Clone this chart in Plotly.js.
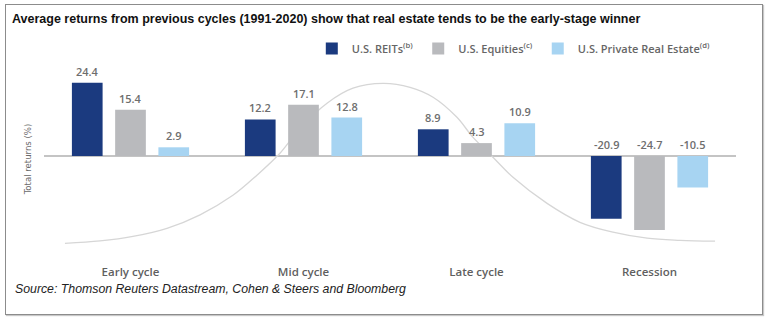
<!DOCTYPE html>
<html>
<head>
<meta charset="utf-8">
<script src="https://cdn.plot.ly/plotly-3.0.1.min.js"></script>
<style>
  html, body { margin: 0; padding: 0; background: #ffffff; }
  #wrap { position: relative; width: 770px; height: 329px; }
  #chart { position: absolute; left: 0; top: 0; width: 770px; height: 329px; }
  #frame { position: absolute; left: 5px; top: 4px; width: 756px; height: 309px;
           border: 1.5px solid #8c8c8c; box-shadow: 1px 1px 1px #c8c8c8; pointer-events: none; }
</style>
</head>
<body>
<div id="wrap">
  <div id="chart"></div>
  <div id="frame"></div>
</div>
<script>
// ---- data ----
const categories = ['Early cycle', 'Mid cycle', 'Late cycle', 'Recession'];
const seriesNames = ['U.S. REITs<sup>(b)</sup>', 'U.S. Equities<sup>(c)</sup>', 'U.S. Private Real Estate<sup>(d)</sup>'];
const reits = [24.4, 12.2, 8.9, -20.9];
const equities = [15.4, 17.1, 4.3, -24.7];
const privateRealEstate = [2.9, 12.8, 10.9, -10.5];
// decorative business-cycle curve (x in category units, y in %)
const cycleCurveX = [-0.379, -0.176, 0.014, 0.211, 0.402, 0.592, 0.731, 0.864, 0.980, 1.136, 1.286, 1.460,
                     1.616, 1.749, 1.887, 1.980, 2.095, 2.211, 2.408, 2.598, 2.789, 2.986, 3.176, 3.379];
const cycleCurveY = [-29.1, -28.3, -26.8, -24.1, -19.6, -13.1, -6.4, 0.9, 9.2, 17.6, 22.6, 24.2,
                     22.9, 19.6, 12.9, 6.2, -0.4, -7.1, -15.8, -22.1, -25.4, -27.4, -28.1, -28.4];
const titleText = 'Average returns from previous cycles (1991-2020) show that real estate tends to be the early-stage winner';
const yTitle = 'Total returns (%)';
const sourceText = 'Source: Thomson Reuters Datastream, Cohen &amp; Steers and Bloomberg';

// ---- styles ----
const colors = ['#1b3a7f', '#b9babd', '#a7d4f2'];
const seriesValues = [reits, equities, privateRealEstate];
const BARGAP = 0.25, BARGROUPGAP = 0.29;
const labelFont = { family: 'Open Sans, sans-serif', size: 11, color: '#6e6e6e', weight: 600 };

const traces = [{
  type: 'scatter', mode: 'lines', x: cycleCurveX, y: cycleCurveY, xaxis: 'x', yaxis: 'y',
  line: { color: '#d6d6d6', width: 1.3, shape: 'spline', smoothing: 1 },
  showlegend: false, hoverinfo: 'skip', cliponaxis: false
}];
seriesValues.forEach((vals, s) => {
  traces.push({
    type: 'bar', x: categories, y: vals, name: seriesNames[s], xaxis: 'x2', yaxis: 'y',
    marker: { color: colors[s], line: { width: 0 } }, hoverinfo: 'skip'
  });
});

// value labels (above bar for positive, above the zero line for negative)
const slot = (1 - BARGAP) / seriesValues.length;
const annotations = [];
seriesValues.forEach((vals, s) => {
  vals.forEach((v, i) => {
    annotations.push({
      xref: 'x', yref: 'y', x: i + (s - (seriesValues.length - 1) / 2) * slot, y: Math.max(v, 0),
      text: v.toFixed(1), showarrow: false, yanchor: 'bottom', xanchor: 'center', yshift: 2,
      font: labelFont
    });
  });
});
annotations.push({
  xref: 'paper', yref: 'paper', x: -0.045, y: -0.245, xanchor: 'left', yanchor: 'middle',
  text: '<i>' + sourceText + '</i>', showarrow: false,
  font: { family: 'Liberation Sans, Arial, sans-serif', size: 12.3, color: '#222222' }
});

const layout = {
  width: 770, height: 329,
  margin: { l: 44, r: 34, t: 72, b: 83 },
  paper_bgcolor: 'rgba(0,0,0,0)', plot_bgcolor: 'rgba(0,0,0,0)',
  barmode: 'group', bargap: BARGAP, bargroupgap: BARGROUPGAP,
  title: {
    text: '<b>' + titleText + '</b>', xref: 'container', yref: 'container',
    x: 12 / 770, xanchor: 'left', y: 1 - 19 / 329, yanchor: 'middle',
    font: { family: 'Liberation Sans, Arial, sans-serif', size: 12.5, color: '#111111' }
  },
  xaxis: { range: [-0.5, 3.5], visible: false, fixedrange: true },
  xaxis2: {
    type: 'category', overlaying: 'x', anchor: 'y', side: 'bottom', range: [-0.5, 3.5],
    showgrid: false, zeroline: false, showline: false, ticks: '', ticklabelstandoff: 17,
    tickfont: { family: 'Open Sans, sans-serif', size: 11.5, color: '#5f5f5f', weight: 600 }
  },
  yaxis: {
    range: [-30, 28], showgrid: false, showticklabels: false, ticks: '',
    zeroline: true, zerolinecolor: '#c4c4c4', zerolinewidth: 1.5,
    title: { text: yTitle, standoff: 9,
      font: { family: 'Liberation Sans Narrow, DejaVu Sans Condensed, Roboto, sans-serif', size: 9.5, color: '#6a6a6a', stretch: 'condensed' } }
  },
  legend: {
    orientation: 'h', x: 0.387, xanchor: 'left', y: 1.135, yanchor: 'middle',
    bgcolor: 'rgba(0,0,0,0)', traceorder: 'normal',
    font: { family: 'Open Sans, sans-serif', size: 11, color: '#666666', weight: 600 }
  },
  annotations: annotations,
  showlegend: true
};

Plotly.newPlot('chart', traces, layout, { displayModeBar: false, staticPlot: true });
</script>
</body>
</html>
